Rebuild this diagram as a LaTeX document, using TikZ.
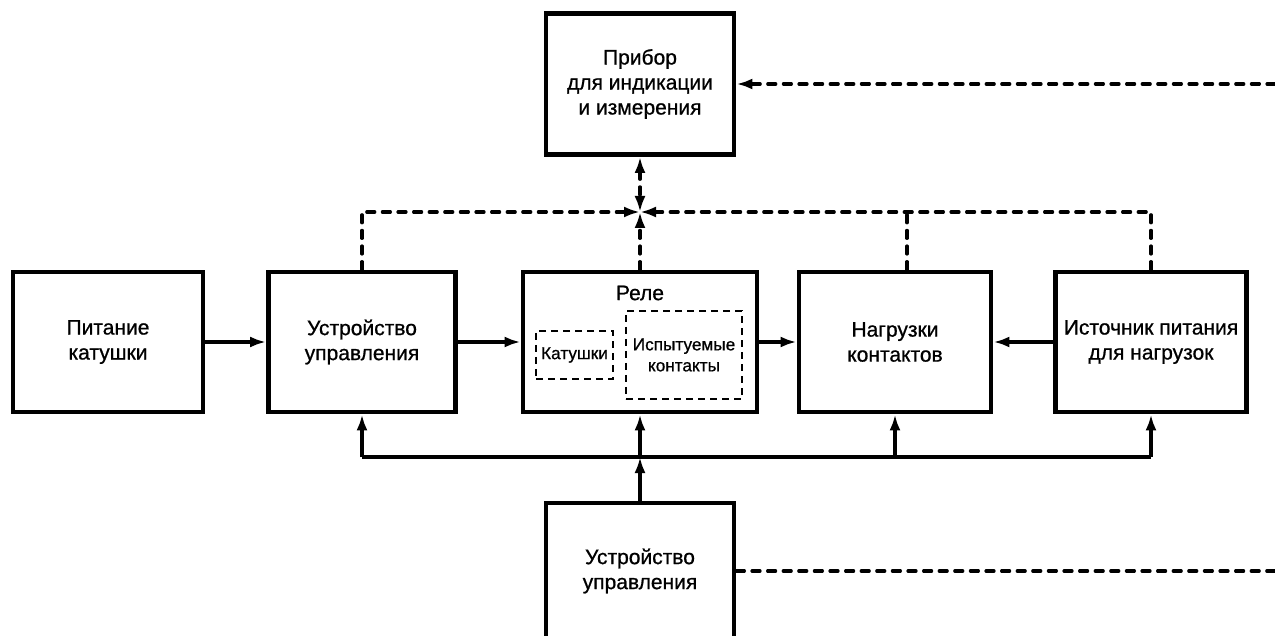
\documentclass[tikz,border=0pt]{standalone}
\usepackage{fontspec}
\setmainfont{Liberation Sans}[FakeBold=0.8]
\usetikzlibrary{arrows.meta}

\begin{document}
\begin{tikzpicture}[x=0.5pt, y=-0.5pt,
    >={Latex[length=8pt,width=5.5pt]},
    block/.style={draw, line width=2.4pt, minimum height=70pt, inner sep=1pt,
        align=center, font=\fontsize{10.5}{12.5}\selectfont},
    inner/.style={draw, line width=1.3pt, dash pattern=on 3.5pt off 2.5pt,
        align=center, inner sep=1pt, font=\fontsize{8.6}{10.5}\selectfont},
    cline/.style={line width=1.6pt},
    dline/.style={line width=1.6pt, line cap=round, dash pattern=on 4pt off 3.8pt}]

    % Fix the page size
    \useasboundingbox (0,0) rectangle (1275,636);

    % Draw the blocks
    \node[block, minimum width=94pt, minimum height=70.5pt] (pribor) at (640,84) {Прибор\\для индикации\\и измерения};
    \node[block, minimum width=95pt] (pit) at (108,342) {Питание\\катушки};
    \node[block, minimum width=93.5pt] (upr) at (362,342) {Устройство\\управления};
    \node[block, minimum width=117pt] (rele) at (640,342) {};
    \node[block, minimum width=96pt] (nagr) at (895,342) {Нагрузки\\контактов};
    \node[block, minimum width=95.5pt] (ist) at (1151,342) {Источник питания\\для нагрузок};
    \node[block, minimum width=94pt, minimum height=68pt] (ctrl) at (640,571) {Устройство\\управления};

    % Inside the relay
    \node[font=\fontsize{10.5}{12.5}\selectfont] (releText) at (640,293) {Реле};
    \node[inner, minimum width=38.5pt, minimum height=24pt] (kat) at (574.5,355) {Катушки};
    \node[inner, minimum width=58pt, minimum height=44pt] (isp) at (684,355) {Испытуемые\\контакты};

    % Define the junction, the bus and the free ends
    \coordinate (J) at (640,212);
    \coordinate (bus) at (0,457);
    \coordinate (edgeTop) at (1275,84);
    \coordinate (edgeBot) at (1275,571);

    % Draw the dashed measuring links
    \draw[dline, ->] (edgeTop) -- (pribor.east);
    \draw[dline, <->] (pribor.south) -- (J);
    \draw[dline, ->] (upr.north) -- (upr.north |- J) -- (J);
    \draw[dline, ->] (ist.north) -- (ist.north |- J) -- (J);
    \draw[dline] ([xshift=6pt]nagr.north) -- ([xshift=6pt]nagr.north |- J);
    \draw[dline, ->] (rele.north) -- (J);
    \draw[dline] (ctrl.east) -- (edgeBot);

    % Draw the main chain
    \draw[cline, ->] (pit) -- (upr);
    \draw[cline, ->] (upr) -- (rele);
    \draw[cline, ->] (rele) -- (nagr);
    \draw[cline, ->] (ist) -- (nagr);

    % Draw the control bus
    \draw[cline] (upr.south |- bus) -- (ist.south |- bus);
    \draw[cline, ->] (ctrl.north) -- (ctrl.north |- bus);
    \foreach \n in {upr, rele, nagr, ist}
        \draw[cline, ->] (\n.south |- bus) -- (\n.south);

\end{tikzpicture}
\end{document}
